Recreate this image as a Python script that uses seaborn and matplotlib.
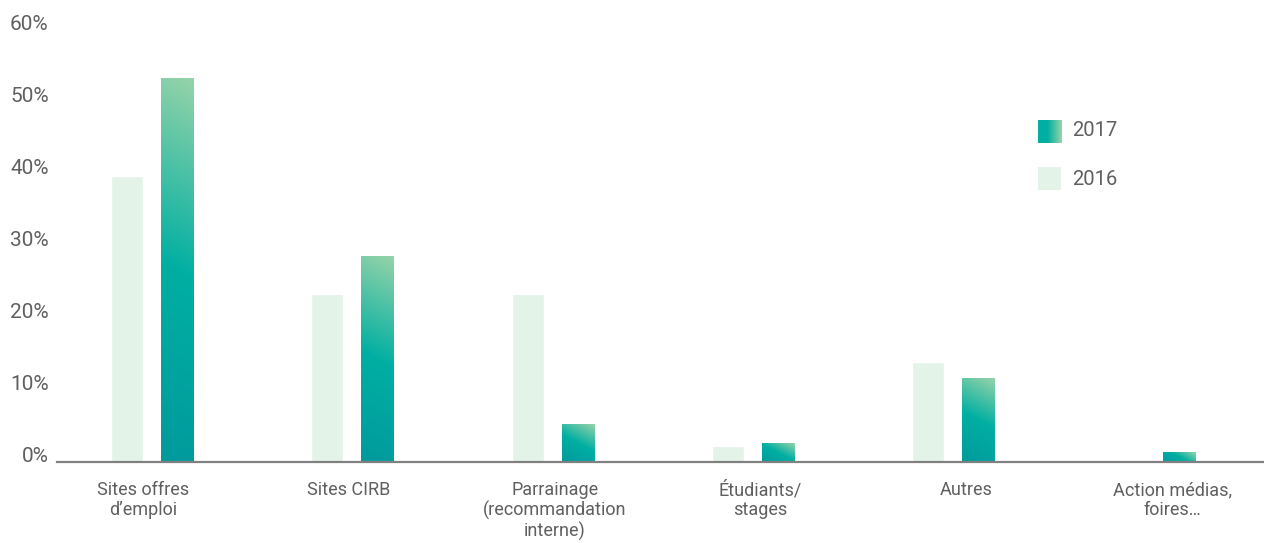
import numpy as np
import pandas as pd
import matplotlib
matplotlib.use("Agg")
import matplotlib.pyplot as plt
import seaborn as sns
from matplotlib.colors import LinearSegmentedColormap
from matplotlib.patches import Rectangle

# --- data ---
categories = ["Sites offres\nd\u2019emploi", "Sites CIRB", "Parrainage\n(recommandation\ninterne)",
              "\u00c9tudiants/\nstages", "Autres", "Action m\u00e9dias,\nfoires\u2026"]
values_2016 = [39.7, 23.3, 23.3, 2.2, 13.8, 0.0]
values_2017 = [53.3, 28.6, 5.2, 2.6, 11.6, 1.3]
years = ["2016", "2017"]
yticks = [0, 10, 20, 30, 40, 50, 60]

df = pd.DataFrame({
    "category": categories * 2,
    "year": ["2016"] * len(categories) + ["2017"] * len(categories),
    "value": values_2016 + values_2017,
})

light = "#e4f3e8"
grad_cmap = LinearSegmentedColormap.from_list(
    "teal", [(0.0, "#009a9d"), (0.5, "#00afa2"), (1.0, "#95d3a9")])
text_col = "#5f5f5f"

sns.set_theme(style="white")
plt.rcParams["font.family"] = ["Roboto", "DejaVu Sans"]

fig = plt.figure(figsize=(12.64, 5.43), dpi=100)
ax = fig.add_axes([0.0451, 0.150, 0.9549, 0.7948])

sns.barplot(data=df, x="category", y="value", hue="year", hue_order=years,
            palette={"2016": light, "2017": "#00afa2"}, width=0.5, gap=0.36,
            saturation=1, legend=False, ax=ax, errorbar=None)

ax.set_xlim(-0.474, 5.55)
ax.set_ylim(0, 60)

# gradient fill for the 2017 bars: fixed angle in screen space, stretched corner to corner
angle = np.deg2rad(28)
for patch in ax.containers[1]:
    x, y = patch.get_x(), patch.get_y()
    w, h = patch.get_width(), patch.get_height()
    if h <= 0:
        continue
    (px0, py0), (px1, py1) = ax.transData.transform([(x, y), (x + w, y + h)])
    W, H = abs(px1 - px0), abs(py1 - py0)
    L = W * np.sin(angle) + H * np.cos(angle)
    gx = np.linspace(-W / 2, W / 2, 64)
    gy = np.linspace(-H / 2, H / 2, 256)
    grad = 0.5 + np.add.outer(gy * np.cos(angle), gx * np.sin(angle)) / L
    im = ax.imshow(grad, cmap=grad_cmap, vmin=0, vmax=1, origin="lower",
                   extent=[x, x + w, y, y + h], aspect="auto",
                   zorder=patch.get_zorder() + 0.1)
    im.set_clip_path(patch)

ax.set_xlim(-0.474, 5.55)
ax.set_ylim(0, 60)
ax.set_yticks(yticks)
ax.set_yticklabels([f"{t}%" for t in yticks], fontsize=15, color=text_col, va="baseline")
ax.tick_params(axis="y", length=0, pad=6)

# category labels sit on a slightly wider spacing than the bar groups
label_pos = [-0.045 + 1.0275 * i for i in range(len(categories))]
ax.set_xticks(label_pos)
ax.set_xticklabels(categories)
ax.tick_params(axis="x", length=0, pad=14, labelsize=13, labelcolor=text_col)
for lbl in ax.get_xticklabels():
    lbl.set_linespacing(1.12)
ax.set_xlabel("")
ax.set_ylabel("")
sns.despine(ax=ax, left=True)
ax.spines["bottom"].set_color("#808080")
ax.spines["bottom"].set_linewidth(1.6)
ax.spines["bottom"].set_zorder(5)
ax.grid(False)

# --- legend ---
sw = fig.add_axes([0.8212, 0.7366, 0.0182, 0.0424])
ramp = 0.5 + 0.5 * np.clip((np.linspace(0, 1, 64) - 0.4) / 0.6, 0, 1)
sw.imshow(ramp[None, :], cmap=grad_cmap, vmin=0, vmax=1, aspect="auto")
sw.set_axis_off()
fig.patches.append(Rectangle((0.8212, 0.6501), 0.0182, 0.0424, transform=fig.transFigure,
                             facecolor=light, edgecolor="none"))
fig.text(0.848, 0.7600, "2017", fontsize=14.5, color=text_col, va="center")
fig.text(0.848, 0.6695, "2016", fontsize=14.5, color=text_col, va="center")

fig.savefig("out.png", dpi=100)
